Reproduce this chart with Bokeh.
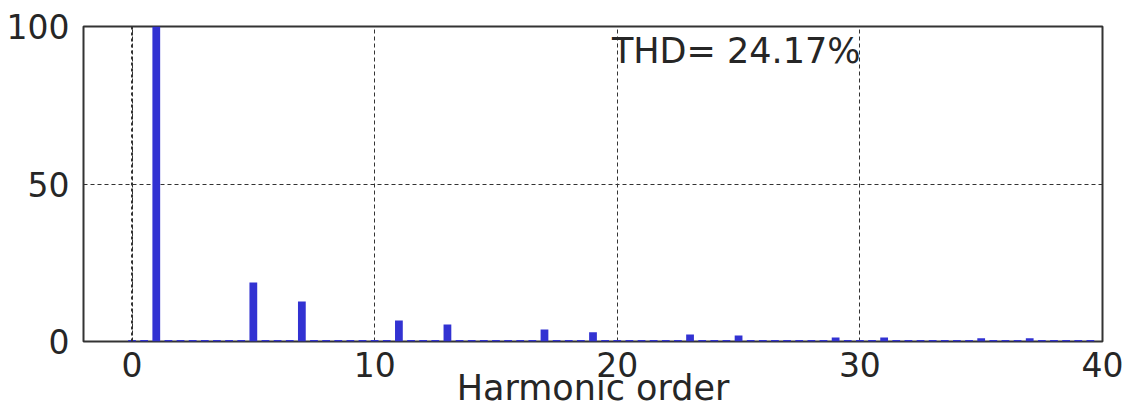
from bokeh.plotting import figure
from bokeh.models import ColumnDataSource, Label, FixedTicker, Span, Range1d
from bokeh.embed import file_html
from bokeh.resources import INLINE

# Harmonic orders (half-order resolution) and magnitudes in % of fundamental
orders = [0, 0.5, 1, 1.5, 2, 2.5, 3, 3.5, 4, 4.5,
          5, 5.5, 6, 6.5, 7, 7.5, 8, 8.5, 9, 9.5,
          10, 10.5, 11, 11.5, 12, 12.5, 13, 13.5, 14, 14.5,
          15, 15.5, 16, 16.5, 17, 17.5, 18, 18.5, 19, 19.5,
          20, 20.5, 21, 21.5, 22, 22.5, 23, 23.5, 24, 24.5,
          25, 25.5, 26, 26.5, 27, 27.5, 28, 28.5, 29, 29.5,
          30, 30.5, 31, 31.5, 32, 32.5, 33, 33.5, 34, 34.5,
          35, 35.5, 36, 36.5, 37, 37.5, 38, 38.5, 39, 39.5]
magnitudes = [0.5, 0.5, 100, 0.5, 0.5, 0.5, 0.5, 0.5, 0.5, 0.5,
              18.7, 0.5, 0.5, 0.5, 12.7, 0.5, 0.5, 0.5, 0.5, 0.5,
              0.5, 0.5, 6.7, 0.5, 0.5, 0.5, 5.4, 0.5, 0.5, 0.5,
              0.5, 0.5, 0.5, 0.5, 3.8, 0.5, 0.5, 0.5, 2.9, 0.5,
              0.5, 0.5, 0.5, 0.5, 0.5, 0.5, 2.2, 0.5, 0.5, 0.5,
              1.9, 0.5, 0.5, 0.5, 0.5, 0.5, 0.5, 0.5, 1.3, 0.5,
              0.5, 0.5, 1.3, 0.5, 0.5, 0.5, 0.5, 0.5, 0.5, 0.5,
              1.0, 0.5, 0.5, 0.5, 1.0, 0.5, 0.5, 0.5, 0.5, 0.5]
x_ticks = [0, 10, 20, 30, 40]
y_ticks = [0, 50, 100]
thd_text = "THD= 24.17%"
x_label = "Harmonic order"

FONT = "DejaVu Sans"
FS = "33px"
FS_L = "35px"
TXT = "#262626"

p = figure(width=1133, height=410, output_backend="svg", toolbar_location=None,
           x_range=Range1d(-2, 40), y_range=Range1d(0, 100),
           min_border_left=83, min_border_right=31, min_border_top=26, min_border_bottom=69)
p.background_fill_color = "white"
p.border_fill_color = "white"
p.outline_line_color = "#333333"
p.outline_line_width = 2

src = ColumnDataSource(dict(x=orders, top=magnitudes))
p.vbar(x="x", top="top", bottom=0, width=0.32, source=src,
       fill_color="#3232d2", line_color=None)

for ax in (p.xaxis[0], p.yaxis[0]):
    ax.axis_line_color = None
    ax.major_tick_line_color = None
    ax.minor_tick_line_color = None
    ax.major_label_text_font = FONT
    ax.major_label_text_font_size = FS
    ax.major_label_text_color = TXT
p.xaxis.ticker = FixedTicker(ticks=x_ticks)
p.yaxis.ticker = FixedTicker(ticks=y_ticks)
p.xaxis.major_label_standoff = 4
p.yaxis.major_label_standoff = 8
p.xaxis.axis_label = x_label
p.xaxis.axis_label_text_font = FONT
p.xaxis.axis_label_text_font_size = FS_L
p.xaxis.axis_label_text_font_style = "normal"
p.xaxis.axis_label_text_color = TXT
p.xaxis.axis_label_standoff = -12

p.xgrid.grid_line_color = "#333333"
p.xgrid.grid_line_dash = "4 3"
p.xgrid.grid_line_width = 1
p.ygrid.grid_line_color = "#333333"
p.ygrid.grid_line_dash = "4 3"
p.ygrid.grid_line_width = 1

p.add_layout(Span(location=0, dimension="height", line_color="#333333",
                  line_width=2, line_dash="3 3"))

p.add_layout(Label(x=19.78, y=98.6, text=thd_text, text_font=FONT,
                   text_font_size=FS_L, text_color=TXT, text_baseline="top"))

open("out.html", "w").write(file_html(p, INLINE))
